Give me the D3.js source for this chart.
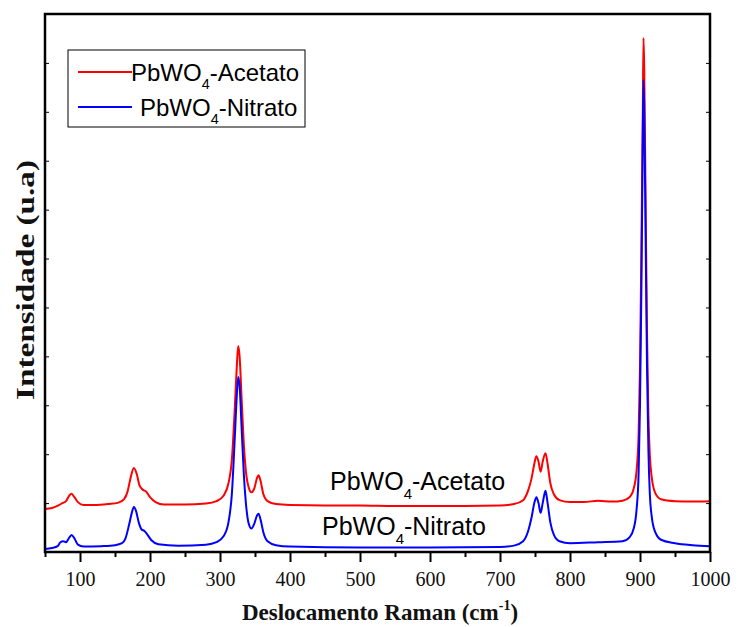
<!DOCTYPE html>
<html><head><meta charset="utf-8">
<script src="https://cdn.jsdelivr.net/npm/d3@7"></script>
<style>body{margin:0;background:#fff;} svg{display:block;}</style>
</head><body>
<script>
// Raman shift (cm-1) and intensity (a.u.)
const acetatoX = [50,60,70,75,80,85,88,92,97,105,120,140,155,163,168,172,177,181,185,190,194,200,208,220,250,280,295,305,312,317,321,324,326,328,331,334,337,341,345,349,353,355,358,362,368,380,400,450,500,550,600,650,700,720,733,740,745,749,752,755,758,761,765,768,772,777,785,800,820,840,860,875,885,891,895,898,900,902,904,905,906,908,910,912,914,917,922,930,950,975,1000];
const acetatoY = [88,90,96,100,104,116,119,112,102,96,96,98,101,108,124,150,172,160,136,127,124,112,102,97,97,99,104,115,140,190,290,380,421,400,310,220,165,132,122,130,152,157,145,118,104,98,96,95,95,94,94,94,95,98,106,125,150,180,196,185,164,185,202,180,140,118,106,102,102,105,103,105,112,130,165,240,380,620,900,1051,990,720,450,280,200,150,120,108,104,103,104];
const nitratoX = [50,60,68,72,76,80,84,88,92,97,105,130,150,160,165,170,174,177,180,184,188,192,196,202,212,240,280,295,305,312,317,321,324,326,328,331,334,337,341,345,349,353,355,358,362,368,380,400,500,600,700,720,733,740,745,749,752,755,758,761,765,768,772,777,785,800,840,875,885,891,895,898,900,902,904,905,906,908,910,912,914,917,922,930,950,975,1000];
const nitratoY = [6,8,12,20,22,20,28,35,28,15,11,12,14,18,28,55,80,92,84,60,46,43,36,24,16,13,15,20,32,60,120,230,320,358,340,250,160,100,58,48,58,75,78,66,40,22,14,11,9,9,10,13,22,42,70,100,112,100,80,100,125,100,60,35,22,18,20,22,30,48,85,160,300,540,850,965,910,650,380,210,120,70,40,25,18,14,12];
const xTicks = [100,200,300,400,500,600,700,800,900,1000];
const xMinor = [50,150,250,350,450,550,650,750,850,950];
const yTicks = [100,200,300,400,500,600,700,800,900,1000,1100];

const W = 739, H = 627;
const m = {l:45, r:710, t:14, b:552};
const svg = d3.select("body").append("svg").attr("width", W).attr("height", H);
const x = d3.scaleLinear().domain([50,1000]).range([m.l, m.r]);
const y = d3.scaleLinear().domain([0,1100]).range([m.b, m.t]);

// bottom axis
const gx = svg.append("g").attr("transform", `translate(0,${m.b})`);
gx.call(d3.axisBottom(x).tickValues(xTicks).tickSize(10).tickSizeOuter(0).tickFormat(d3.format("d")));
gx.append("g").call(d3.axisBottom(x).tickValues(xMinor).tickSize(5).tickSizeOuter(0).tickFormat(""));
gx.selectAll(".domain").remove();
gx.selectAll("line").attr("stroke","#000").attr("stroke-width",2);
gx.selectAll("text").attr("font-family","'Liberation Serif', 'Times New Roman', serif").attr("font-size",20).attr("fill","#111").attr("dy","1.05em");

// left / right axes ticks inward, no labels
const gl = svg.append("g").attr("transform", `translate(${m.l},0)`)
  .call(d3.axisRight(y).tickValues(yTicks).tickSize(4).tickFormat(""));
const gr = svg.append("g").attr("transform", `translate(${m.r},0)`)
  .call(d3.axisLeft(y).tickValues(yTicks).tickSize(4).tickFormat(""));
[gl,gr].forEach(g=>{g.selectAll(".domain").remove(); g.selectAll("line").attr("stroke","#000").attr("stroke-width",1);});

// curves
const line = d3.line().x(d=>x(d[0])).y(d=>y(d[1])).curve(d3.curveMonotoneX);
const ac = acetatoX.map((v,i)=>[v, acetatoY[i]]);
const ni = nitratoX.map((v,i)=>[v, nitratoY[i]]);
svg.append("path").datum(ac).attr("d", line).attr("fill","none").attr("stroke","#ff0000").attr("stroke-width",2);
svg.append("path").datum(ni).attr("d", line).attr("fill","none").attr("stroke","#0000ff").attr("stroke-width",2);

// frame
svg.append("rect").attr("x",m.l).attr("y",m.t).attr("width",m.r-m.l).attr("height",m.b-m.t)
  .attr("fill","none").attr("stroke","#000").attr("stroke-width",2.5);

// label helper: PbWO4-xxx with subscript
function label(g, px, py, rest, size){
  const t = g.append("text").attr("x",px).attr("y",py)
    .attr("font-family","'Liberation Sans', Arial, sans-serif").attr("font-size",size).attr("fill","#000");
  t.append("tspan").text("PbWO");
  t.append("tspan").text("4").attr("font-size",size*0.6).attr("dy", size*0.35);
  t.append("tspan").text(rest).attr("dy", -size*0.35);
  return t;
}
label(svg, 330, 490, "-Acetato", 25);
label(svg, 322, 535, "-Nitrato", 25);

// legend
const lg = svg.append("g");
lg.append("rect").attr("x",68).attr("y",50).attr("width",237).attr("height",77).attr("fill","none").attr("stroke","#000").attr("stroke-width",1);
lg.append("line").attr("x1",78).attr("x2",132).attr("y1",72).attr("y2",72).attr("stroke","#ff0000").attr("stroke-width",2);
lg.append("line").attr("x1",78).attr("x2",132).attr("y1",107).attr("y2",107).attr("stroke","#0000ff").attr("stroke-width",2);
label(lg, 131, 81, "-Acetato", 24);
label(lg, 140, 116, "-Nitrato", 24);

// axis titles
const xt = svg.append("text").attr("x",380).attr("y",620).attr("text-anchor","middle")
  .attr("font-family","'Liberation Serif', 'Times New Roman', serif").attr("font-weight","bold").attr("font-size",23).attr("fill","#111");
xt.append("tspan").text("Deslocamento Raman (cm");
xt.append("tspan").text("-1").attr("font-size",14).attr("dy",-10);
xt.append("tspan").text(")").attr("dy",10);
svg.append("text").attr("transform","translate(34,280) rotate(-90)").attr("text-anchor","middle")
  .attr("font-family","'Liberation Serif', 'Times New Roman', serif").attr("font-weight","bold").attr("font-size",26).attr("fill","#111")
  .attr("textLength",240).attr("lengthAdjust","spacingAndGlyphs")
  .text("Intensidade (u.a)");
</script>
</body></html>
